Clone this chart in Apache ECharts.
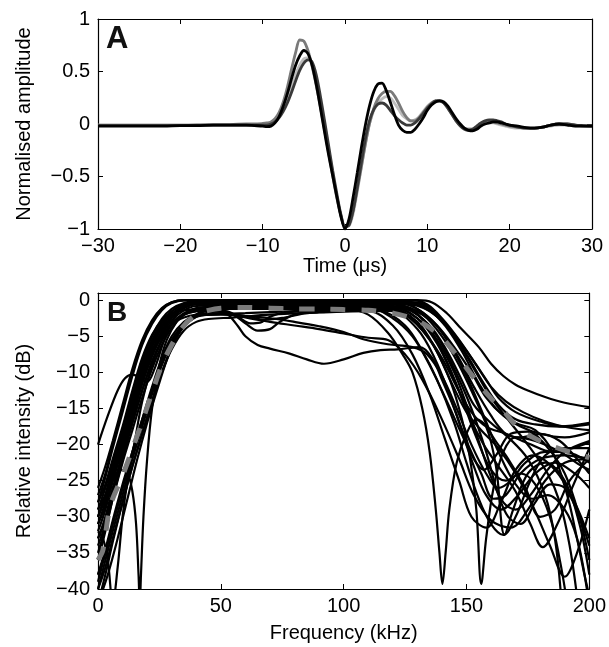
<!DOCTYPE html>
<html><head><meta charset="utf-8">
<script src="https://cdn.jsdelivr.net/npm/echarts@6/dist/echarts.min.js"></script>
<style>html,body{margin:0;padding:0;background:#fff}#c{width:609px;height:647px}</style>
</head><body><div id="c"></div><script>
// ---------- Panel A : waveforms ----------
const timeUs = [-30,-28,-26,-24,-22,-20,-18,-16,-14,-12,
 -11,-10,
 -9.5,-9,-8.5,-8,-7.5,-7,-6.5,-6,-5.5,-5,
 -4.5,-4,-3.5,-3,-2.5,-2,-1.5,-1,-0.5,0,
 0.5,1,1.5,2,2.5,3,3.5,4,4.5,5,
 5.5,6,6.5,7,7.5,8,8.5,9,9.5,10,
 10.5,11,11.5,12,12.5,13,13.5,14,14.5,15,
 15.5,16,16.5,17,17.5,18,18.5,19,19.5,20,
 21,22,23,24,25,26,27,28,29,30];
const waveBlack = [-0.02,-0.02,-0.02,-0.02,-0.02,-0.015,-0.015,-0.01,-0.01,-0.01,
 -0.015,-0.02,
 -0.025,-0.02,0.01,0.07,0.17,0.29,0.43,0.56,0.65,0.70,
 0.67,0.56,0.38,0.16,-0.07,-0.29,-0.49,-0.69,-0.88,-1.0,
 -0.9,-0.69,-0.46,-0.22,0.0,0.18,0.31,0.38,0.39,0.32,
 0.21,0.09,-0.01,-0.06,-0.08,-0.08,-0.05,0.0,0.06,0.13,
 0.18,0.21,0.22,0.21,0.17,0.11,0.05,0.0,-0.04,-0.06,
 -0.065,-0.05,-0.02,0.0,0.01,0.02,0.02,0.01,0.0,-0.01,
 -0.02,-0.035,-0.04,-0.03,-0.01,0.0,-0.01,-0.02,-0.02,-0.02];
const waveGrey = [-0.01,-0.01,-0.01,-0.01,-0.01,-0.01,-0.01,-0.005,-0.005,0.0,
 0.0,0.005,
 0.01,0.02,0.05,0.11,0.21,0.35,0.52,0.68,0.80,0.79,
 0.70,0.55,0.37,0.17,-0.05,-0.27,-0.49,-0.70,-0.87,-0.98,
 -0.96,-0.82,-0.62,-0.40,-0.18,0.01,0.15,0.24,0.29,0.31,
 0.31,0.27,0.2,0.12,0.06,0.03,0.03,0.06,0.11,0.16,
 0.2,0.22,0.22,0.2,0.15,0.09,0.03,-0.01,-0.04,-0.05,
 -0.05,-0.03,0.0,0.02,0.03,0.02,0.01,0.0,-0.01,-0.02,
 -0.03,-0.04,-0.04,-0.03,-0.01,0.0,0.0,-0.01,-0.02,-0.02];
const waveLight = [-0.01,-0.01,-0.01,-0.01,-0.01,-0.01,-0.01,-0.01,-0.01,-0.01,
 -0.01,-0.005,
 0.0,0.01,0.03,0.08,0.15,0.25,0.36,0.47,0.56,0.62,
 0.63,0.57,0.42,0.22,0.0,-0.23,-0.46,-0.68,-0.87,-0.98,
 -0.97,-0.85,-0.64,-0.41,-0.18,0.01,0.13,0.2,0.24,0.26,
 0.25,0.2,0.14,0.08,0.05,0.03,0.04,0.07,0.12,0.17,
 0.2,0.22,0.22,0.2,0.15,0.09,0.03,-0.01,-0.04,-0.05,
 -0.05,-0.04,-0.02,0.0,0.01,0.01,0.0,-0.01,-0.02,-0.03,
 -0.04,-0.04,-0.04,-0.03,-0.02,-0.01,-0.01,-0.02,-0.02,-0.02];
const waveDark = [-0.015,-0.015,-0.015,-0.015,-0.015,-0.015,-0.01,-0.01,-0.01,-0.01,
 -0.01,-0.01,
 -0.01,0.0,0.02,0.06,0.12,0.2,0.3,0.41,0.51,0.58,
 0.61,0.59,0.47,0.27,0.04,-0.2,-0.44,-0.66,-0.86,-0.98,
 -0.96,-0.82,-0.6,-0.36,-0.13,0.04,0.14,0.19,0.2,0.18,
 0.13,0.08,0.04,0.01,-0.01,-0.01,0.01,0.05,0.1,0.15,
 0.19,0.22,0.22,0.2,0.15,0.09,0.03,-0.02,-0.05,-0.06,
 -0.05,-0.02,0.01,0.03,0.04,0.04,0.03,0.02,0.0,-0.01,
 -0.03,-0.04,-0.04,-0.03,-0.01,0.0,0.0,-0.01,-0.015,-0.02];

// ---------- Panel B : spectra [kHz, dB] ----------
const spec01 = [[0,-27],[3,-24],[6,-20],[10,-15],[14,-10],[18,-5.8],[22,-3],[26,-1.2],[30,-0.3],[35,0],[50,0],[80,0],[110,0],[130,0],[136,-0.3],[142,-1.8],[148,-4],[155,-6.5],[160,-8.8],[165,-10.5],[170,-11.7],[175,-12.5],[182,-13.4],[190,-14.2],[200,-14.8]];
const spec02 = [[0,-29],[3,-26],[6,-22.5],[10,-18],[14,-13],[18,-8.5],[22,-5],[26,-2.6],[30,-1.2],[35,-0.4],[40,-0.1],[50,0],[90,0],[120,0],[128,-0.3],[135,-1.5],[142,-3.5],[150,-7],[158,-11],[163,-13.5],[170,-15.5],[180,-16.8],[190,-17.5],[200,-17.2]];
const spec03 = [[0,-31],[3,-28.5],[6,-25],[10,-20.5],[14,-15.5],[18,-11],[22,-7],[26,-4.2],[30,-2.3],[35,-1.1],[40,-0.5],[50,-0.3],[80,-0.3],[110,-0.4],[120,-0.5],[130,-1.5],[138,-3.5],[145,-6.5],[152,-10],[158,-13.5],[165,-16],[172,-17.5],[180,-18.5],[190,-19],[200,-18.3]];
const spec04 = [[0,-20],[4,-16],[8,-12.5],[11,-10.8],[14,-10.3],[17,-10.7],[20,-11.3],[23,-9.5],[27,-5.5],[31,-2.5],[35,-1],[40,-0.5],[60,-0.4],[100,-0.5],[125,-0.5],[135,-1.5],[143,-4],[150,-7.5],[157,-11.5],[163,-14.5],[170,-16.5],[178,-17.2],[188,-17.5],[200,-17]];
const spec05 = [[0,-35],[3,-31.5],[6,-27.5],[10,-22.5],[14,-18],[18,-13.5],[22,-9.5],[26,-6.2],[30,-3.8],[35,-2],[40,-1.2],[50,-1],[80,-1],[105,-0.9],[115,-0.8],[125,-2],[133,-4.5],[140,-8],[146,-12],[152,-15.5],[158,-17.5],[166,-18.5],[175,-19.8],[185,-21],[192,-20.6],[200,-19.7]];
const spec06 = [[0,-39],[3,-35],[6,-31],[10,-26],[14,-21.5],[18,-17],[22,-12.5],[26,-8.5],[30,-5.5],[35,-3.3],[40,-2.3],[45,-2],[60,-1.8],[80,-1.5],[100,-1.2],[110,-1],[120,-2.5],[128,-5],[135,-9],[142,-14],[148,-18.5],[153,-22],[157,-23.5],[162,-21.5],[168,-18.5],[175,-18.2],[182,-20],[190,-24],[196,-30],[200,-36]];
const spec07 = [[0,-33],[3,-30],[6,-26],[10,-21.5],[14,-17],[18,-12.5],[22,-8.5],[26,-5.5],[30,-3.3],[35,-2],[40,-1.5],[48,-1.3],[55,-2],[60,-3.2],[65,-4.2],[70,-4],[74,-3],[80,-2],[90,-1.5],[105,-1.4],[115,-1.5],[125,-3.5],[132,-7],[138,-11],[145,-17],[150,-22.5],[155,-27.5],[160,-31],[165,-32.5],[170,-30],[176,-25],[182,-21.5],[190,-20.5],[200,-20.5]];
const spec08 = [[0,-30],[3,-27.5],[6,-24],[10,-19.5],[14,-14.5],[18,-10],[22,-6.2],[26,-3.6],[30,-1.9],[35,-0.9],[40,-0.5],[60,-0.5],[90,-0.8],[100,-1],[110,-2],[118,-4.5],[124,-7.5],[128,-10],[132,-15],[135,-21],[137.5,-29],[139,-35],[140.2,-39.3],[141.5,-35],[143,-29],[146,-22.5],[150,-18.5],[154,-16.5],[158,-17.5],[162,-23],[165.5,-32.5],[169,-29],[175,-24],[182,-22.5],[190,-25],[196,-31],[200,-38]];
const spec09 = [[0,-29],[3,-27],[6,-25],[9,-23.5],[12,-24],[14,-26.5],[15.5,-31],[16.5,-38],[17,-42],[17.5,-38],[18.5,-30],[20,-22],[22,-15],[25,-9],[28,-5.5],[32,-3],[36,-1.7],[40,-1.1],[50,-0.8],[80,-0.8],[110,-0.6],[125,-2],[135,-5.5],[142,-10],[147,-15],[151,-21],[154,-29],[156,-39.3],[158,-33],[161,-26],[165,-21],[170,-19],[178,-19.5],[188,-21],[197,-23],[200,-23.5]];
const spec10 = [[0,-38],[3,-34.5],[6,-30.5],[10,-25.5],[14,-21],[18,-16.5],[22,-12],[26,-8],[30,-5],[35,-3],[40,-2],[45,-1.3],[50,-1.4],[53,-2],[57,-3.6],[60,-5],[65,-6.2],[70,-6.7],[78,-7.4],[85,-8.2],[92,-8.8],[100,-8.2],[108,-7.3],[115,-6.9],[122,-6.8],[131,-6.5],[136,-8],[140,-11],[145,-15],[150,-19.5],[156,-24],[161,-27.5],[166,-27],[172,-24],[180,-22],[190,-21.5],[200,-22]];
const spec11 = [[0,-28],[3,-25.5],[6,-22],[10,-17.5],[14,-12.5],[18,-8],[22,-4.8],[26,-2.8],[30,-1.8],[35,-1.4],[40,-1.3],[50,-1.6],[60,-2.4],[70,-3],[80,-3.5],[90,-4],[100,-4.6],[110,-5.2],[118,-5.5],[125,-7.5],[132,-11],[140,-16.5],[147,-22],[153,-27],[160,-30.5],[168,-31.5],[175,-29],[182,-25],[190,-22.5],[200,-22]];
const spec12 = [[0,-32],[2,-33],[4,-36],[6,-42],[8,-37],[10,-30],[12,-25],[15,-19.5],[18,-14],[22,-9],[26,-5.5],[30,-3.2],[35,-1.8],[40,-1.2],[50,-1],[80,-1.1],[110,-1],[120,-1],[130,-2.5],[138,-5.5],[145,-10],[150,-14.5],[155,-19.5],[160,-24.5],[165,-28],[170,-29],[176,-27],[183,-23.5],[190,-21],[200,-19.5]];
const spec13 = [[0,-26],[3,-23],[6,-19.5],[10,-14.5],[14,-9.5],[18,-5.5],[22,-2.8],[26,-1.1],[30,-0.3],[35,0],[60,0],[100,0],[125,-0.5],[135,-2.5],[143,-6],[150,-10.5],[157,-16],[163,-21],[170,-25.5],[177,-27.5],[183,-27],[190,-29],[195,-33],[199,-40]];
const spec14 = [[0,-30],[3,-27],[6,-23.5],[10,-19],[14,-14],[18,-9.5],[22,-5.8],[26,-3.2],[30,-1.6],[35,-0.6],[40,-0.3],[80,-0.3],[115,-0.4],[125,-1],[135,-3.5],[142,-7],[148,-11],[153,-14.5],[160,-17],[167,-19],[175,-22],[182,-27],[186,-33],[188.5,-41]];
const spec15 = [[0,-36],[3,-32],[6,-27.5],[10,-22],[14,-16.5],[18,-11.5],[22,-7.5],[26,-4.5],[30,-2.5],[35,-1],[40,-0.4],[50,-0.2],[100,-0.2],[130,-0.3],[138,-2],[146,-5.5],[153,-9.5],[160,-13.5],[168,-17],[176,-20.5],[183,-24],[188,-28],[192,-34],[195,-41]];
const spec16 = [[0,-40],[3,-37],[6,-33],[10,-28],[14,-23],[18,-18.5],[22,-14],[26,-10],[30,-6.5],[35,-3.6],[40,-2],[45,-1.3],[50,-1],[90,-0.6],[120,-0.5],[130,-0.5],[140,-3],[148,-7],[155,-11.5],[162,-15],[170,-17],[178,-18],[185,-21],[191,-27],[195,-33],[198,-38],[200,-41]];
const spec17 = [[0,-40],[3,-36],[6,-32],[10,-27],[14,-22],[18,-17.5],[22,-13],[26,-9],[30,-6],[35,-3.6],[40,-2.3],[45,-1.7],[52,-1.5],[57,-2.3],[62,-3.2],[66,-3.1],[70,-2.3],[76,-1.7],[90,-1.4],[110,-1],[120,-0.8],[130,-2.5],[138,-6],[145,-11],[151,-16],[157,-20],[163,-23],[170,-26.5],[176,-31],[181,-34.2],[187,-31],[193,-26],[200,-20.5]];
const spec18 = [[0,-34],[3,-31],[6,-27],[10,-22],[14,-17],[18,-12.5],[22,-8.5],[26,-5.5],[30,-3.4],[35,-2],[40,-1.5],[50,-1.2],[90,-1.2],[120,-1.2],[130,-3],[137,-6.5],[144,-11.5],[150,-15.5],[156,-18],[163,-20.5],[170,-24],[177,-28.5],[184,-34],[190,-38.3],[195,-35],[200,-29]];
const spec19 = [[0,-31],[3,-28],[6,-24.5],[10,-20],[14,-15.5],[18,-11],[22,-7.5],[26,-5],[30,-3.3],[35,-2.4],[40,-2],[50,-1.8],[60,-2.2],[68,-2.7],[76,-2.4],[85,-1.8],[100,-1.5],[110,-1.4],[120,-1.5],[130,-4],[137,-8],[143,-13],[148,-18],[153,-23],[158,-27],[164,-29],[171,-27],[178,-24],[186,-22.5],[194,-24],[200,-26]];
const spec20 = [[0,-42],[3,-38],[6,-33.5],[10,-28],[14,-23],[18,-18.5],[22,-14],[26,-10],[30,-6.8],[35,-4.2],[40,-3],[45,-2.6],[55,-2.4],[70,-2],[90,-1.7],[110,-1.5],[120,-3.5],[128,-7.5],[135,-13],[141,-19],[147,-25],[152,-30],[158,-31.5],[164,-28],[170,-23.5],[177,-21.5],[186,-23.5],[194,-28],[200,-33]];
const spec21 = [[0,-28],[3,-24.5],[6,-20.5],[10,-15.5],[14,-10.5],[18,-6.2],[22,-3.3],[26,-1.4],[30,-0.4],[36,0],[60,0],[100,0],[128,0],[134,-0.6],[140,-2.5],[147,-5.5],[154,-9],[160,-12],[166,-14],[173,-15.5],[182,-16.8],[191,-17.6],[200,-18]];
const spec22 = [[0,-32],[3,-29],[6,-25],[10,-20],[14,-15],[18,-10.5],[22,-6.5],[26,-3.8],[30,-2],[35,-0.8],[40,-0.3],[60,-0.2],[100,-0.2],[122,-0.3],[130,-1.2],[138,-3.5],[146,-7.5],[153,-12],[160,-16],[166,-18.5],[172,-19],[180,-18.5],[188,-19.5],[195,-22],[200,-24]];
const spec23 = [[0,-38],[3,-35],[6,-31],[10,-26],[14,-21],[18,-16.5],[22,-12.5],[26,-8.8],[30,-5.8],[35,-3.5],[40,-2.2],[50,-2],[60,-2.2],[70,-2.5],[80,-3],[90,-3.6],[100,-4.4],[108,-5.4],[118,-6.1],[128,-6.5],[134,-7.5],[140,-10.5],[146,-15],[152,-20],[158,-24],[163,-26],[168,-25],[174,-22.5],[182,-21],[190,-21],[200,-22.5]];
const spec24 = [[0,-33],[3,-30.5],[6,-26.5],[10,-21],[14,-16],[18,-11.5],[22,-7.8],[26,-4.8],[30,-2.8],[35,-1.4],[40,-0.8],[60,-0.7],[100,-0.7],[120,-0.8],[130,-2],[138,-5],[145,-9.5],[152,-15],[158,-21],[163,-27],[167,-30],[172,-31],[178,-28],[184,-25.5],[190,-26],[196,-30],[200,-34]];
const spec25 = [[0,-42],[4,-38],[8,-33],[12,-27.5],[16,-22],[20,-17],[24,-12.5],[28,-8.3],[32,-5],[36,-3],[40,-2],[45,-1.4],[50,-1.1],[90,-0.9],[125,-1],[135,-4],[142,-8.5],[148,-13.5],[154,-19],[160,-23.5],[166,-25],[172,-24],[178,-25.5],[184,-30],[188,-36],[191,-42]];
const spec26 = [[0,-30],[3,-27],[6,-23],[10,-18.5],[14,-13.5],[18,-9],[22,-5.5],[26,-3],[30,-1.5],[35,-0.6],[40,-0.3],[70,-0.3],[110,-0.4],[120,-0.5],[132,-2],[140,-5],[147,-9],[154,-14],[160,-18.5],[167,-22],[174,-26],[180,-30],[186,-29],[192,-25],[200,-22]];
const specMean = [[0,-36],[2,-34.6],[5,-28.5],[10,-24.3],[14,-20.6],[18,-16.8],[22,-12.8],[26,-9],[30,-6.2],[35,-3.5],[40,-2],[45,-1.4],[50,-1.1],[60,-1],[70,-1.1],[80,-1.2],[90,-1.2],[100,-1.3],[110,-1.4],[120,-1.8],[125,-2.2],[130,-2.8],[135,-3.8],[140,-5.2],[145,-7.2],[150,-9.4],[155,-11.6],[160,-13.6],[165,-15.3],[170,-17.3],[175,-18.6],[180,-19.5],[185,-20.2],[190,-20.8],[195,-21.3],[200,-21.8]];
const spectra = [spec01,spec02,spec03,spec04,spec05,spec06,spec07,spec08,spec09,spec10,spec11,spec12,spec13,
  spec14,spec15,spec16,spec17,spec18,spec19,spec20,spec21,spec22,spec23,spec24,spec25,spec26];

const timeTicks = {min:-30, max:30, interval:10};
const ampTicks = {min:-1, max:1, interval:0.5};
const freqTicks = {min:0, max:200, interval:50};
const dbTicks = {min:-40, max:1, interval:5};

const FONT = "'Liberation Sans', Arial, Helvetica, sans-serif";
const minus = v => (v < 0 ? '\u2212' + String(-v) : String(v));
const lineAx = {show:true, onZero:false, lineStyle:{color:'#000', width:1.2}};
const tickAx = {show:true, inside:true, length:5, lineStyle:{color:'#000', width:1}};

function xAx(grid, t, pos, name, gap) {
  return {type:'value', gridIndex:grid, position:pos, min:t.min, max:t.max, interval:t.interval,
    axisLine:lineAx, axisTick:tickAx, splitLine:{show:false},
    axisLabel:{show:pos==='bottom', color:'#000', fontSize:20, fontFamily:FONT, margin:7, formatter:minus},
    name: pos==='bottom' ? name : '', nameLocation:'middle', nameGap:gap,
    nameTextStyle:{color:'#000', fontSize:20, fontFamily:FONT}};
}
function yAx(grid, t, pos, name, gap) {
  return {type:'value', gridIndex:grid, position:pos, min:t.min, max:t.max, interval:t.interval,
    axisLine:lineAx, axisTick:tickAx, splitLine:{show:false},
    axisLabel:{show:pos==='left', color:'#000', fontSize:20, fontFamily:FONT, margin:8, showMaxLabel: t.max % t.interval === 0,
      formatter: v => (v > 0 && v % t.interval !== 0 ? '' : minus(v))},
    name: pos==='left' ? name : '', nameLocation:'middle', nameRotate:90, nameGap:gap,
    nameTextStyle:{color:'#000', fontSize:20, fontFamily:FONT}};
}

const series = [];
const waves = [[waveLight,'#bdbdbd'],[waveGrey,'#7a7a7a'],[waveDark,'#3a3a3a'],[waveBlack,'#000000']];
waves.forEach(([w,c]) => series.push({type:'line', xAxisIndex:0, yAxisIndex:0, showSymbol:false, smooth:0.3,
  data: timeUs.map((t,i) => [t, w[i]]), lineStyle:{color:c, width:2.8}, itemStyle:{color:c}, silent:true}));
spectra.forEach(s => series.push({type:'line', xAxisIndex:2, yAxisIndex:2, showSymbol:false, smooth:0.35,
  data:s, lineStyle:{color:'#000', width:2.2}, itemStyle:{color:'#000'}, silent:true}));
series.push({type:'line', xAxisIndex:2, yAxisIndex:2, showSymbol:false, smooth:0.3, data:specMean,
  lineStyle:{color:'#7b7b7b', width:5, type:[15,16]}, itemStyle:{color:'#7b7b7b'}, silent:true, z:5});

const chart = echarts.init(document.getElementById('c'), null, {renderer:'canvas'});
chart.setOption({
  animation:false, backgroundColor:'#fff',
  grid:[{left:98, right:17, top:19, height:210}, {left:98, right:17, top:293, height:296}],
  xAxis:[xAx(0,timeTicks,'bottom','Time (\u03bcs)',27), xAx(0,timeTicks,'top','',0),
         xAx(1,freqTicks,'bottom','Frequency (kHz)',34), xAx(1,freqTicks,'top','',0)],
  yAxis:[yAx(0,ampTicks,'left','Normalised amplitude',64), yAx(0,ampTicks,'right','',0),
         yAx(1,dbTicks,'left','Relative intensity (dB)',64), yAx(1,dbTicks,'right','',0)],
  graphic:[
    {type:'text', left:106, top:24, style:{text:'A', fontSize:31, fontWeight:'bold', fontFamily:FONT, fill:'#111'}},
    {type:'text', left:107, top:299, style:{text:'B', fontSize:28, fontWeight:'bold', fontFamily:FONT, fill:'#111'}}
  ],
  series: series
});
</script></body></html>
